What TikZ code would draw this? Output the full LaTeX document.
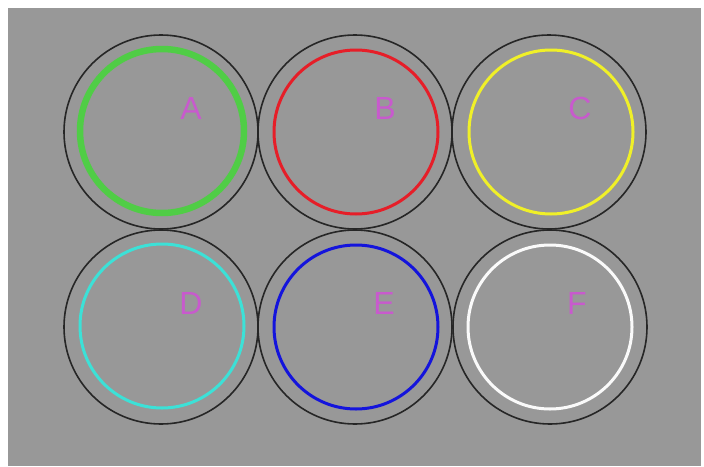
\documentclass[tikz,border=0pt]{standalone}
\usepackage{fontspec}
\setmainfont{Liberation Sans}
\definecolor{bggray}{RGB}{152,152,152}
\definecolor{lblmag}{RGB}{200,90,205}
\definecolor{cgreen}{RGB}{80,205,70}
\definecolor{cred}{RGB}{230,30,40}
\definecolor{cyellow}{RGB}{240,240,40}
\definecolor{ccyan}{RGB}{60,225,215}
\definecolor{cblue}{RGB}{20,20,220}
\definecolor{cwhite}{RGB}{250,250,250}
\begin{document}
\begin{tikzpicture}[x=1pt,y=-1pt,
  well/.style={circle,draw=black!85,line width=1.6pt,minimum size=194pt,inner sep=0pt},
  ring/.style={circle,line width=3pt,minimum size=164pt,inner sep=0pt},
  lbl/.style={text=lblmag,font=\fontsize{32}{36}\selectfont,inner sep=0pt}]
\useasboundingbox (0,0) rectangle (704,466);
\fill[white] (0,0) rectangle (704,466);
\fill[bggray] (8,8) rectangle (701,466);
% wells
\node[well] (wa) at (161,132) {};
\node[well] (wb) at (355,132) {};
\node[well] (wc) at (549,132) {};
\node[well] (wd) at (161,327) {};
\node[well] (we) at (355,327) {};
\node[well] (wf) at (550,327) {};
% colored rings
\node[ring,draw=cgreen,line width=6.5pt,minimum size=164pt] (ra) at (162,131) {};
\node[ring,draw=cred] (rb) at (356,132) {};
\node[ring,draw=cyellow] (rc) at (551,132) {};
\node[ring,draw=ccyan] (rd) at (162,326) {};
\node[ring,draw=cblue] (re) at (356,327) {};
\node[ring,draw=cwhite] (rf) at (550,327) {};
% labels
\node[lbl] (la) at (191,108) {A};
\node[lbl] (lb) at (385,108) {B};
\node[lbl] (lc) at (580,108) {C};
\node[lbl] (ld) at (191,303) {D};
\node[lbl] (le) at (384,303) {E};
\node[lbl] (lf) at (577,303) {F};
\end{tikzpicture}
\end{document}
